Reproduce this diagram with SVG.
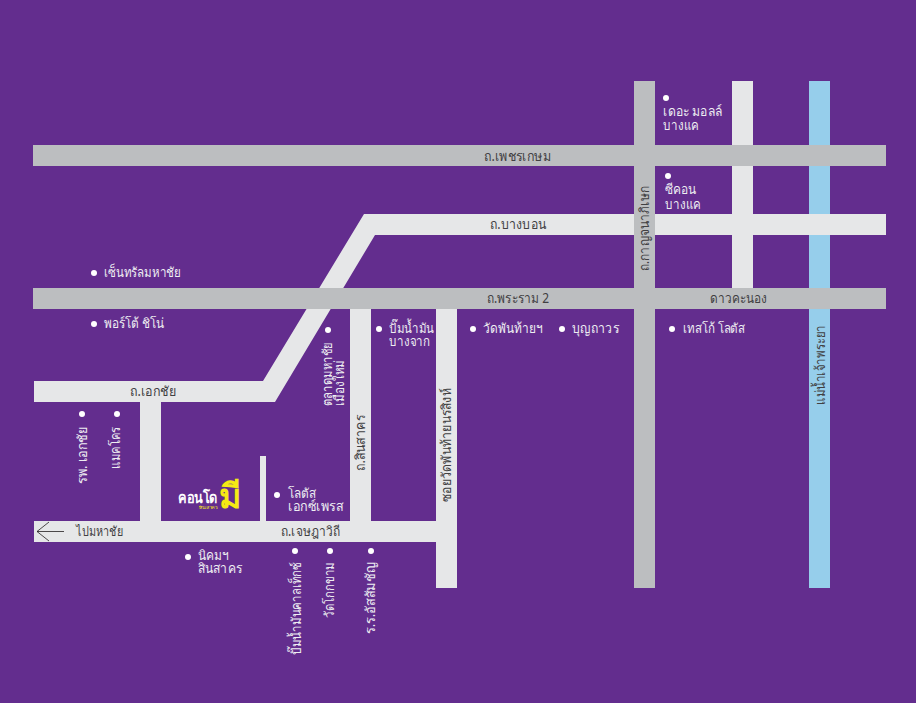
<svg xmlns="http://www.w3.org/2000/svg" width="916" height="703" viewBox="0 0 916 703">
<style>
text{font-family:"Noto Sans","Liberation Sans","DejaVu Sans",sans-serif;font-size:13.5px}
.d{fill:#414042}
.w{fill:#eeeef2}
.g{fill:#bcbec0}
.l{fill:#e6e7e8}
.b{fill:#96ceeb}
.m{text-anchor:middle}
.dot{fill:#fff}
</style>
<rect width="916" height="703" fill="#632d8e"/>
<g id="connectors">
<rect class="b" x="809" y="81" width="21" height="507"/>
<rect class="l" x="732" y="81" width="21" height="207"/>
<polygon class="l" points="364,214 886,214 886,235 375,235 275,402 34,402 34,381 263,381"/>
<rect class="l" x="140" y="402" width="21" height="119"/>
<rect class="l" x="350" y="309" width="21" height="212"/>
<rect class="l" x="436" y="309" width="21" height="279"/>
<rect class="l" x="260" y="456" width="6" height="65"/>
<rect class="l" x="34" y="521" width="402" height="21"/>
<rect class="g" x="33" y="145" width="853" height="21"/>
<rect class="g" x="33" y="288" width="853" height="21"/>
<rect class="g" x="634" y="81" width="21" height="507"/>
<path d="M64,531.500H37M49,522L37,531.500L49,541" fill="none" stroke="#231f20" stroke-width="0.8"/>
</g>
<g id="road-labels">
<text class="d m" x="517.500" y="161" textLength="67" lengthAdjust="spacingAndGlyphs">ถ.เพชรเกษม</text>
<text class="d m" x="518" y="229" textLength="56" lengthAdjust="spacingAndGlyphs">ถ.บางบอน</text>
<text class="d m" x="518" y="303" textLength="62" lengthAdjust="spacingAndGlyphs">ถ.พระราม 2</text>
<text class="d m" x="738.500" y="303" textLength="57" lengthAdjust="spacingAndGlyphs">ดาวคะนอง</text>
<text class="d m" x="153" y="396" textLength="46" lengthAdjust="spacingAndGlyphs">ถ.เอกชัย</text>
<text class="d m" x="310.500" y="536" textLength="59" lengthAdjust="spacingAndGlyphs">ถ.เจษฎาวิถี</text>
<text class="d" x="76" y="536" textLength="47" lengthAdjust="spacingAndGlyphs">ไปมหาชัย</text>
<text class="d m" transform="translate(649,228.500) rotate(-90)" textLength="85" lengthAdjust="spacingAndGlyphs">ถ.กาญจนาภิเษก</text>
<text class="d m" transform="translate(365,443) rotate(-90)" textLength="56" lengthAdjust="spacingAndGlyphs">ถ.สินสาคร</text>
<text class="d m" transform="translate(451,445) rotate(-90)" textLength="114" lengthAdjust="spacingAndGlyphs">ซอยวัดพันท้ายนรสิงห์</text>
<text class="d m" transform="translate(825,365) rotate(-90)" textLength="80" lengthAdjust="spacingAndGlyphs">แม่น้ำเจ้าพระยา</text>
</g>
<g id="condo">
<text x="178" y="503" style="font-size:15px;font-weight:700" fill="#fff" textLength="40" lengthAdjust="spacingAndGlyphs">คอนโด</text>
<text x="199" y="509" style="font-size:4px" fill="#f5ea14" textLength="19" lengthAdjust="spacingAndGlyphs">สินสาคร</text>
<text x="219" y="508" style="font-size:34px;font-weight:700" fill="#f5ea14" textLength="22" lengthAdjust="spacingAndGlyphs">มี</text>
</g>
<g id="poi-central"><circle class="dot" cx="94" cy="273" r="3"/><text class="w" x="104" y="277" textLength="77" lengthAdjust="spacingAndGlyphs">เซ็นทรัลมหาชัย</text></g>
<g id="poi-porto"><circle class="dot" cx="94" cy="324" r="3"/><text class="w" x="104" y="328" textLength="60" lengthAdjust="spacingAndGlyphs">พอร์โต้ ชิโน่</text></g>
<g id="poi-mall"><circle class="dot" cx="666" cy="98" r="3"/><text class="w" x="663" y="116" textLength="59" lengthAdjust="spacingAndGlyphs">เดอะ มอลล์</text><text class="w" x="663" y="130" textLength="36" lengthAdjust="spacingAndGlyphs">บางแค</text></g>
<g id="poi-seacon"><circle class="dot" cx="668" cy="176" r="3"/><text class="w" x="665" y="194" textLength="31" lengthAdjust="spacingAndGlyphs">ซีคอน</text><text class="w" x="665" y="209" textLength="36" lengthAdjust="spacingAndGlyphs">บางแค</text></g>
<g id="poi-pump"><circle class="dot" cx="379" cy="329" r="3"/><text class="w" x="389" y="333" textLength="45" lengthAdjust="spacingAndGlyphs">ปั๊มน้ำมัน</text><text class="w" x="389" y="346" textLength="41" lengthAdjust="spacingAndGlyphs">บางจาก</text></g>
<g id="poi-wat"><circle class="dot" cx="473" cy="329" r="3"/><text class="w" x="483" y="333" textLength="60" lengthAdjust="spacingAndGlyphs">วัดพันท้ายฯ</text></g>
<g id="poi-bunyu"><circle class="dot" cx="562" cy="329" r="3"/><text class="w" x="572" y="333" textLength="47" lengthAdjust="spacingAndGlyphs">บุญถาวร</text></g>
<g id="poi-tesco"><circle class="dot" cx="672" cy="329" r="3"/><text class="w" x="683" y="333" textLength="62" lengthAdjust="spacingAndGlyphs">เทสโก้ โลตัส</text></g>
<g id="poi-market"><circle class="dot" cx="328" cy="330" r="3"/><text class="w" transform="translate(332,406) rotate(-90)" textLength="64" lengthAdjust="spacingAndGlyphs">ตลาดมหาชัย</text><text class="w" transform="translate(344,406) rotate(-90)" textLength="46" lengthAdjust="spacingAndGlyphs">เมืองใหม่</text></g>
<g id="poi-hosp"><circle class="dot" cx="82" cy="414" r="3"/><text class="w" transform="translate(87,484) rotate(-90)" textLength="57" lengthAdjust="spacingAndGlyphs">รพ. เอกชัย</text></g>
<g id="poi-makro"><circle class="dot" cx="117" cy="414" r="3"/><text class="w" transform="translate(120,469) rotate(-90)" textLength="42" lengthAdjust="spacingAndGlyphs">แมคโคร</text></g>
<g id="poi-lotus"><circle class="dot" cx="277" cy="495" r="3"/><text class="w" x="288" y="498" textLength="28" lengthAdjust="spacingAndGlyphs">โลตัส</text><text class="w" x="288" y="511" textLength="55" lengthAdjust="spacingAndGlyphs">เอกซ์เพรส</text></g>
<g id="poi-nikom"><circle class="dot" cx="188" cy="557" r="3"/><text class="w" x="198" y="560" textLength="31" lengthAdjust="spacingAndGlyphs">นิคมฯ</text><text class="w" x="198" y="573" textLength="44" lengthAdjust="spacingAndGlyphs">สินสาคร</text></g>
<g id="poi-pt"><circle class="dot" cx="295" cy="551" r="3"/><text class="w" transform="translate(301,655) rotate(-90)" textLength="93" lengthAdjust="spacingAndGlyphs">ปั๊มน้ำมันคาลเท็กซ์</text></g>
<g id="poi-watk"><circle class="dot" cx="330" cy="551" r="3"/><text class="w" transform="translate(334,618) rotate(-90)" textLength="56" lengthAdjust="spacingAndGlyphs">วัดโกกขาม</text></g>
<g id="poi-school"><circle class="dot" cx="371" cy="551" r="3"/><text class="w" transform="translate(375,634) rotate(-90)" textLength="72" lengthAdjust="spacingAndGlyphs">ร.ร.อัสสัมชัญ</text></g>
</svg>
